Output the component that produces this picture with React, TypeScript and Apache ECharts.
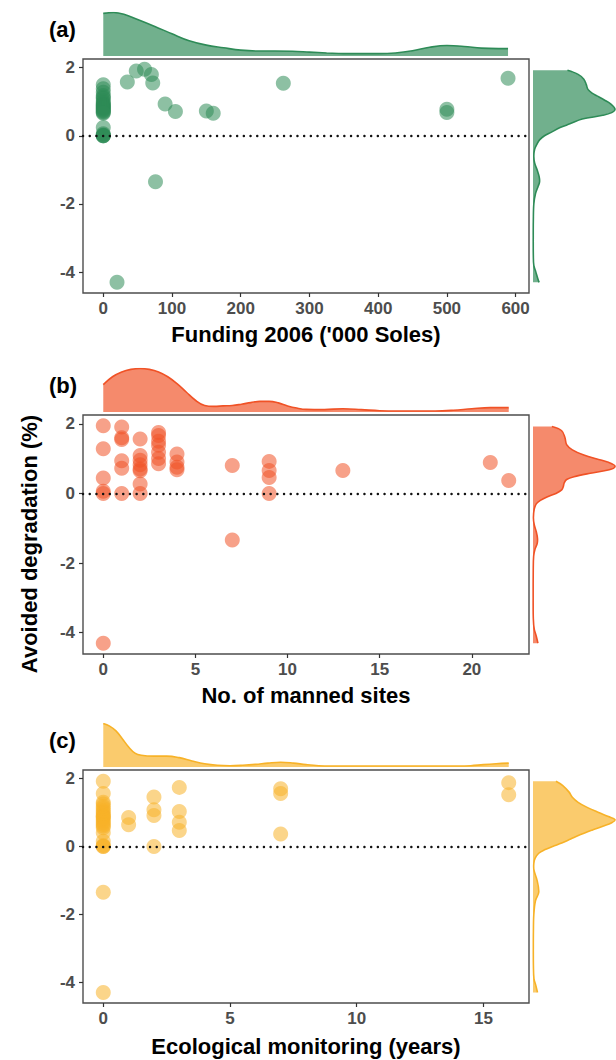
import React, { useEffect, useRef } from "react";
import * as echarts from "echarts";

const FONT = "'Liberation Sans', Arial, Helvetica, sans-serif";

// ---------- Panel (a): Funding 2006 ----------
const fundingX = [
  0, 0, 0, 0, 0, 0, 0, 0, 0, 0, 0, 0, 0, 0, 0, 0, 0, 0, 0, 0, 0, 0, 0, 0, 0,
  20, 35, 48, 60, 70, 72, 76, 90, 105, 150, 160, 262, 500, 500, 589,
];
const avoidedA = [
  1.5, 1.38, 1.28, 1.18, 1.13, 1.09, 1.02, 0.97, 0.93, 0.9, 0.88, 0.85, 0.82, 0.8, 0.77, 0.74, 0.71, 0.68, 0.66, 0.24, 0.06, 0.02, 0, 0, 0,
  -4.3, 1.58, 1.9, 1.95, 1.8, 1.55, -1.35, 0.93, 0.71, 0.73, 0.66, 1.54, 0.78, 0.68, 1.69,
];
const fundingTicks = [0, 100, 200, 300, 400, 500, 600];
// top marginal density (relative)
const fundingDensX = [0, 15, 30, 50, 75, 100, 125, 150, 175, 200, 225, 250, 275, 300, 325, 350, 375, 400, 425, 450, 475, 500, 525, 550, 575, 589];
const fundingDensV = [0.98, 1.0, 0.96, 0.84, 0.68, 0.51, 0.35, 0.25, 0.19, 0.135, 0.115, 0.115, 0.11, 0.09, 0.07, 0.055, 0.055, 0.055, 0.07, 0.12, 0.2, 0.24, 0.22, 0.18, 0.17, 0.17];
// right marginal density (relative)
const densAY = [1.92, 1.8, 1.66, 1.5, 1.36, 1.25, 1.17, 1.05, 0.93, 0.78, 0.68, 0.6, 0.49, 0.35, 0.24, 0.1, 0, -0.12, -0.24, -0.4, -0.6, -0.8, -1.0, -1.2, -1.35, -1.5, -1.7, -2.0, -2.5, -3.0, -3.5, -3.8, -4.0, -4.2, -4.3];
const densAV = [0.42, 0.55, 0.62, 0.65, 0.67, 0.72, 0.78, 0.87, 0.95, 1.0, 0.96, 0.85, 0.6, 0.45, 0.33, 0.22, 0.14, 0.08, 0.05, 0.02, 0.01, 0.02, 0.05, 0.075, 0.08, 0.06, 0.03, 0.01, 0.004, 0.003, 0.004, 0.01, 0.035, 0.06, 0.075];

// ---------- Panel (b): No. of manned sites ----------
const mannedX = [
  0, 0, 0, 0, 0, 0,
  1, 1, 1, 1, 1, 1,
  2, 2, 2, 2, 2, 2, 2, 2,
  3, 3, 3, 3, 3, 3, 3,
  4, 4, 4, 4,
  7, 7,
  9, 9, 9, 9,
  13, 21, 22,
];
const avoidedB = [
  1.94, 1.28, 0.44, 0.06, 0, -4.3,
  1.91, 1.6, 1.55, 0.94, 0.72, 0,
  1.56, 1.09, 0.95, 0.82, 0.7, 0.65, 0.27, 0,
  1.75, 1.66, 1.5, 1.38, 1.18, 1.0, 0.85,
  1.13, 0.9, 0.75, 0.68,
  0.8, -1.34,
  0.92, 0.66, 0.46, 0,
  0.66, 0.89, 0.37,
];
const mannedTicks = [0, 5, 10, 15, 20];
const mannedDensX = [0, 0.5, 1, 1.5, 2, 2.5, 3, 3.5, 4, 4.5, 5, 5.5, 6, 6.5, 7, 7.5, 8, 8.5, 9, 9.5, 10, 10.5, 11, 12, 13, 14, 15, 16, 17, 18, 19, 20, 21, 22];
const mannedDensV = [0.63, 0.81, 0.92, 0.98, 1.0, 0.98, 0.92, 0.81, 0.65, 0.46, 0.27, 0.15, 0.13, 0.14, 0.15, 0.18, 0.215, 0.245, 0.245, 0.21, 0.14, 0.09, 0.06, 0.055, 0.075, 0.055, 0.03, 0.023, 0.023, 0.023, 0.04, 0.075, 0.1, 0.1];
const densBY = [1.92, 1.8, 1.6, 1.4, 1.25, 1.1, 0.95, 0.85, 0.77, 0.68, 0.58, 0.48, 0.4, 0.3, 0.2, 0.1, 0, -0.1, -0.2, -0.3, -0.45, -0.7, -0.9, -1.1, -1.3, -1.45, -1.6, -1.8, -2.2, -3.0, -3.6, -3.9, -4.1, -4.3];
const densBV = [0.23, 0.35, 0.39, 0.41, 0.48, 0.62, 0.84, 0.96, 1.0, 0.93, 0.7, 0.5, 0.41, 0.38, 0.37, 0.35, 0.28, 0.17, 0.09, 0.04, 0.015, 0.005, 0.015, 0.04, 0.055, 0.05, 0.025, 0.008, 0.003, 0.002, 0.004, 0.015, 0.04, 0.06];

// ---------- Panel (c): Ecological monitoring ----------
const monitoringX = [
  0, 0, 0, 0, 0, 0, 0, 0, 0, 0, 0, 0, 0, 0, 0, 0, 0, 0, 0, 0, 0, 0, 0, 0, 0,
  1, 1,
  2, 2, 2, 2,
  3, 3, 3, 3,
  7, 7, 7,
  16, 16,
];
const avoidedC = [
  1.92, 1.56, 1.3, 1.25, 1.18, 1.12, 1.05, 1.0, 0.95, 0.9, 0.88, 0.85, 0.8, 0.75, 0.7, 0.65, 0.6, 0.55, 0.4, 0.15, 0.03, 0, 0, -1.35, -4.3,
  0.85, 0.64,
  1.46, 1.08, 0.91, 0,
  1.74, 1.03, 0.71, 0.47,
  1.7, 1.56, 0.37,
  1.88, 1.52,
];
const monitoringTicks = [0, 5, 10, 15];
const monitoringDensX = [0, 0.25, 0.5, 0.75, 1, 1.25, 1.5, 2, 2.5, 3, 3.5, 4, 4.5, 5, 5.5, 6, 6.5, 7, 7.5, 8, 8.5, 9, 10, 11, 12, 13, 14, 14.5, 15, 15.5, 16];
const monitoringDensV = [1.0, 0.94, 0.83, 0.65, 0.46, 0.32, 0.27, 0.25, 0.25, 0.215, 0.14, 0.075, 0.04, 0.03, 0.04, 0.06, 0.09, 0.11, 0.09, 0.055, 0.03, 0.023, 0.023, 0.023, 0.023, 0.023, 0.023, 0.03, 0.055, 0.075, 0.09];
const densCY = [1.92, 1.8, 1.6, 1.45, 1.3, 1.15, 1.0, 0.88, 0.79, 0.7, 0.6, 0.48, 0.35, 0.22, 0.1, 0, -0.1, -0.2, -0.35, -0.5, -0.7, -1.0, -1.35, -1.6, -2.0, -2.5, -3.0, -3.5, -3.9, -4.1, -4.3];
const densCV = [0.28, 0.36, 0.44, 0.48, 0.55, 0.66, 0.8, 0.92, 1.0, 0.96, 0.86, 0.72, 0.58, 0.46, 0.35, 0.24, 0.14, 0.07, 0.025, 0.01, 0.012, 0.05, 0.07, 0.03, 0.01, 0.005, 0.004, 0.005, 0.012, 0.035, 0.055];

const yTicks = [-4, -2, 0, 2];
const Y_MIN = -4.612;
const Y_MAX = 2.252;

type Panel = {
  label: string;
  xName: string;
  xs: number[];
  ys: number[];
  ticks: number[];
  xMin: number;
  xMax: number;
  topX: number[];
  topV: number[];
  rightY: number[];
  rightV: number[];
  rgb: [number, number, number];
  top: number;
  height: number;
  nameGap: number;
};

const panels: Panel[] = [
  {
    label: "(a)", xName: "Funding 2006 ('000 Soles)", xs: fundingX, ys: avoidedA, ticks: fundingTicks,
    xMin: -29.5, xMax: 619.5, topX: fundingDensX, topV: fundingDensV, rightY: densAY, rightV: densAV,
    rgb: [46, 139, 87], top: 59, height: 234, nameGap: 30,
  },
  {
    label: "(b)", xName: "No. of manned sites", xs: mannedX, ys: avoidedB, ticks: mannedTicks,
    xMin: -1.1, xMax: 23.1, topX: mannedDensX, topV: mannedDensV, rightY: densBY, rightV: densBV,
    rgb: [240, 82, 38], top: 415, height: 239, nameGap: 30,
  },
  {
    label: "(c)", xName: "Ecological monitoring (years)", xs: monitoringX, ys: avoidedC, ticks: monitoringTicks,
    xMin: -0.8, xMax: 16.8, topX: monitoringDensX, topV: monitoringDensV, rightY: densCY, rightV: densCV,
    rgb: [247, 178, 40], top: 770, height: 233, nameGap: 32,
  },
];

const LEFT = 83;
const WIDTH = 446;
const RIGHT_LEFT = 533;
const RIGHT_W = 82;
const TOP_H = 43.5;

function rgba(c: [number, number, number], a: number) {
  return `rgba(${c[0]},${c[1]},${c[2]},${a})`;
}

export default function App() {
  const ref = useRef<HTMLDivElement>(null);
  useEffect(() => {
    document.body.style.margin = "0";
    if (!ref.current) return;
    const chart = echarts.init(ref.current, null, { renderer: "svg" });
    const grid: any[] = [];
    const xAxis: any[] = [];
    const yAxis: any[] = [];
    const series: any[] = [];
    const graphic: any[] = [];

    panels.forEach((p, i) => {
      const line = rgba(p.rgb, 1);
      grid.push({ left: LEFT, top: p.top, width: WIDTH, height: p.height, show: true, borderColor: "#4d4d4d", borderWidth: 1.4, backgroundColor: "transparent" });
      grid.push({ left: LEFT, top: p.top - 3 - TOP_H, width: WIDTH, height: TOP_H });
      grid.push({ left: RIGHT_LEFT, top: p.top, width: RIGHT_W, height: p.height });
      const g = i * 3;
      xAxis.push({
        gridIndex: g, type: "value", min: p.xMin, max: p.xMax, position: "bottom",
        name: p.xName, nameLocation: "middle", nameGap: p.nameGap,
        nameTextStyle: { fontFamily: FONT, fontWeight: "bold", fontSize: 22, color: "#000" },
        axisLine: { show: false, onZero: false },
        axisTick: { show: true, length: 4, lineStyle: { color: "#333", width: 1.2 }, customValues: p.ticks },
        axisLabel: { show: true, customValues: p.ticks, fontFamily: FONT, fontWeight: "bold", fontSize: 17, color: "#4d4d4d", margin: 7 },
        splitLine: { show: false },
      });
      yAxis.push({
        gridIndex: g, type: "value", min: Y_MIN, max: Y_MAX, position: "left",
        axisLine: { show: false, onZero: false },
        axisTick: { show: true, length: 4, lineStyle: { color: "#333", width: 1.2 }, customValues: yTicks },
        axisLabel: { show: true, customValues: yTicks, fontFamily: FONT, fontWeight: "bold", fontSize: 17, color: "#4d4d4d", margin: 8 },
        splitLine: { show: false },
      });
      xAxis.push({ gridIndex: g + 1, type: "value", min: p.xMin, max: p.xMax, show: false });
      yAxis.push({ gridIndex: g + 1, type: "value", min: 0, max: 1, show: false });
      xAxis.push({ gridIndex: g + 2, type: "value", min: 0, max: 1, show: false });
      yAxis.push({ gridIndex: g + 2, type: "value", min: Y_MIN, max: Y_MAX, show: false });

      series.push({
        type: "scatter", xAxisIndex: g, yAxisIndex: g,
        data: p.xs.map((x, k) => [x, p.ys[k]]),
        symbolSize: 15,
        itemStyle: { color: rgba(p.rgb, 0.68) },
        markLine: {
          silent: true, symbol: "none", label: { show: false },
          lineStyle: { color: "#111", width: 2.4, type: [0.1, 6.6], cap: "round" },
          data: [{ yAxis: 0 }],
        },
      });
      series.push({
        type: "line", xAxisIndex: g + 1, yAxisIndex: g + 1,
        data: p.topX.map((x, k) => [x, p.topV[k]]),
        smooth: 0.4, showSymbol: false, symbol: "none",
        lineStyle: { color: line, width: 1.6 },
        areaStyle: { color: rgba(p.rgb, 0.68), opacity: 1 },
      });
      const rightY = p.rightY;
      const rightV = p.rightV;
      series.push({
        type: "custom", xAxisIndex: g + 2, yAxisIndex: g + 2,
        data: rightV.map((v, k) => [v, rightY[k]]),
        encode: { x: 0, y: 1 },
        renderItem: (params: any, api: any) => {
          if (params.dataIndex !== 0) return null;
          const pts = rightV.map((v, k) => api.coord([v, rightY[k]]));
          const b0 = api.coord([0, rightY[0]]);
          const b1 = api.coord([0, rightY[rightY.length - 1]]);
          return {
            type: "group",
            children: [
              { type: "polygon", shape: { points: [b0, ...pts, b1], smooth: 0 }, style: { fill: rgba(p.rgb, 0.68), stroke: "none" } },
              { type: "polyline", shape: { points: pts, smooth: 0.35 }, style: { fill: "none", stroke: line, lineWidth: 1.6 } },
            ],
          };
        },
      });

      graphic.push({
        type: "text", left: 49, top: p.top - 41,
        style: { text: p.label, font: `bold 22px ${FONT}`, fill: "#000" },
      });
    });

    graphic.push({
      type: "text", x: 29, y: 544, rotation: Math.PI / 2,
      style: { text: "Avoided degradation (%)", font: `bold 22px ${FONT}`, fill: "#000", align: "center", verticalAlign: "middle" },
    });

    chart.setOption({ animation: false, grid, xAxis, yAxis, series, graphic });
    return () => chart.dispose();
  }, []);
  return <div ref={ref} style={{ width: 616, height: 1060 }} />;
}
